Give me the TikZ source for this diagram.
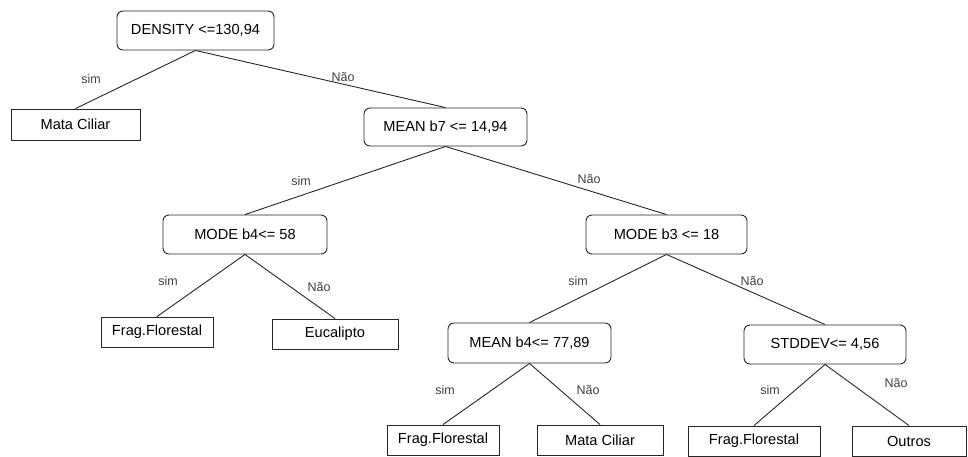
\documentclass[tikz,border=0pt]{standalone}
\usepackage{fontspec}
\setmainfont{Liberation Sans}
\begin{document}
\begin{tikzpicture}[x=1pt,y=-1pt,
  test/.style={draw=black!85,line width=0.9pt,rounded corners=6pt,inner sep=0pt,font=\fontsize{14.6}{16}\selectfont},
  leaf/.style={draw=black!85,line width=0.9pt,inner sep=0pt,font=\fontsize{14.6}{16}\selectfont},
  edge/.style={draw=black!85,line width=0.9pt},
  lbl/.style={inner sep=0pt,text=black!75,font=\fontsize{12.5}{14}\selectfont}]
\useasboundingbox (0,0) rectangle (968,456);
% decision nodes
\node[test,minimum width=157,minimum height=39] (d) at (195.5,30.5) {DENSITY <=130,94};
\node[test,minimum width=163,minimum height=38] (b7) at (445.5,127) {MEAN b7 <= 14,94};
\node[test,minimum width=164,minimum height=39] (b4) at (245,234.5) {MODE b4<= 58};
\node[test,minimum width=161,minimum height=39] (b3) at (666.5,234.5) {MODE b3 <= 18};
\node[test,minimum width=163,minimum height=40] (mb4) at (529.5,343) {MEAN b4<= 77,89};
\node[test,minimum width=162,minimum height=39] (sd) at (825,344.5) {STDDEV<= 4,56};
% leaves
\node[leaf,minimum width=129,minimum height=31] (m1) at (75.5,124.5) {Mata Ciliar};
\node[leaf,minimum width=112,minimum height=30] (f1) at (157,332) {Frag.Florestal};
\node[leaf,minimum width=126,minimum height=30] (eu) at (335,334) {Eucalipto};
\node[leaf,minimum width=112,minimum height=30] (f2) at (443,440) {Frag.Florestal};
\node[leaf,minimum width=126,minimum height=30] (m2) at (600,440) {Mata Ciliar};
\node[leaf,minimum width=132,minimum height=30] (f3) at (754,441) {Frag.Florestal};
\node[leaf,minimum width=114,minimum height=30] (ou) at (909,441) {Outros};
% connectors
\draw[edge] (d.south) -- (m1.north);
\draw[edge] (d.south) -- (b7.north);
\draw[edge] (b7.south) -- (b4.north);
\draw[edge] (b7.south) -- (b3.north);
\draw[edge] (b4.south) -- (f1.north);
\draw[edge] (b4.south) -- (eu.north);
\draw[edge] (b3.south) -- (mb4.north);
\draw[edge] (b3.south) -- (sd.north);
\draw[edge] (mb4.south) -- (f2.north);
\draw[edge] (mb4.south) -- (m2.north);
\draw[edge] (sd.south) -- (f3.north);
\draw[edge] (sd.south) -- (ou.north);
% labels
\node[lbl] (l1) at (91,79) {sim};
\node[lbl] (l2) at (343,77) {Não};
\node[lbl] (l3) at (301,181) {sim};
\node[lbl] (l4) at (589,179) {Não};
\node[lbl] (l5) at (168,281) {sim};
\node[lbl] (l6) at (319,287) {Não};
\node[lbl] (l7) at (578,281) {sim};
\node[lbl] (l8) at (752,281) {Não};
\node[lbl] (l9) at (445,390) {sim};
\node[lbl] (l10) at (588,390) {Não};
\node[lbl] (l11) at (770,390) {sim};
\node[lbl] (l12) at (896,383) {Não};
\end{tikzpicture}
\end{document}
